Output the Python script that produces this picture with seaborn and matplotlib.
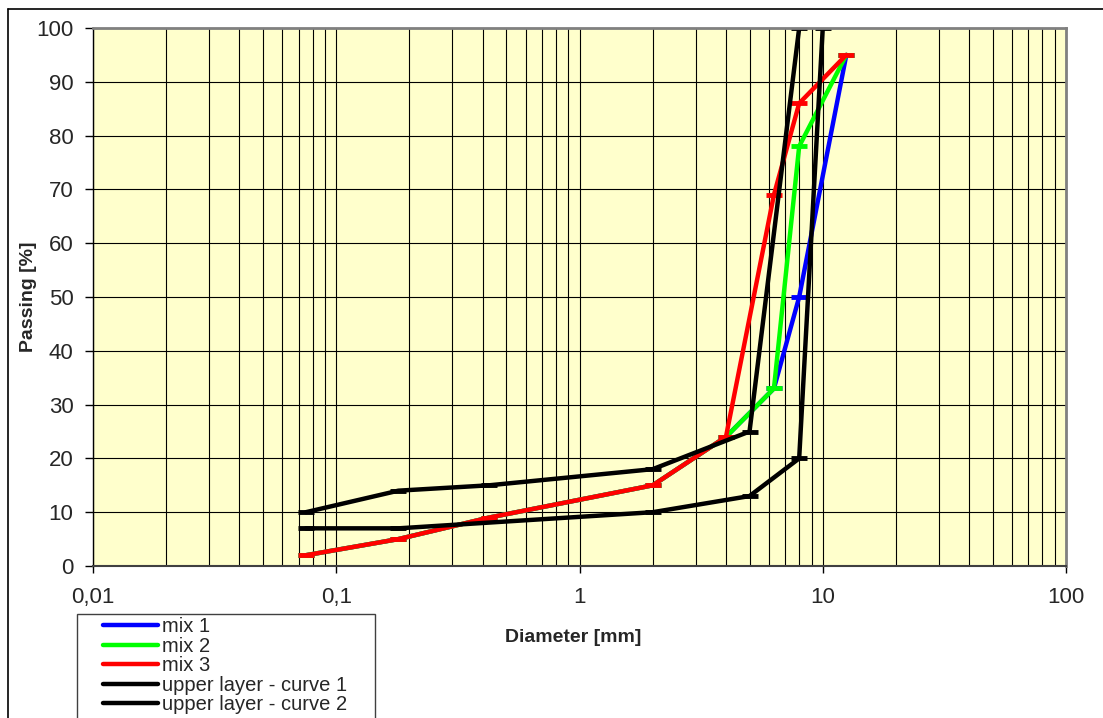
import numpy as np
import pandas as pd
import seaborn as sns
import matplotlib.pyplot as plt
import matplotlib.ticker as mtick
from matplotlib.lines import Line2D
from matplotlib.patches import Rectangle

# sieve sizes [mm] and passing [%]
sieves = [0.075, 0.18, 0.425, 2.0, 4.0, 6.3, 8.0, 12.5]
mix1 = [2, 5, 9, 15, 24, 33, 50, 95]
mix2 = [2, 5, 9, 15, 24, 33, 78, 95]
mix3 = [2, 5, 9, 15, 24, 69, 86, 95]

curve1_d = [0.075, 0.18, 0.425, 2.0, 5.0, 8.0]
curve1_p = [10, 14, 15, 18, 25, 100]
curve2_d = [0.075, 0.18, 2.0, 5.0, 8.0, 10.0]
curve2_p = [7, 7, 10, 13, 20, 100]

labels = ["mix 1", "mix 2", "mix 3", "upper layer - curve 1", "upper layer - curve 2"]
colors = ["#0000FF", "#00FF00", "#FF0000", "#000000", "#000000"]

xticks = [0.01, 0.1, 1, 10, 100]
xticklabels = ["0,01", "0,1", "1", "10", "100"]

series = [
    (sieves, mix1),
    (sieves, mix2),
    (sieves, mix3),
    (curve1_d, curve1_p),
    (curve2_d, curve2_p),
]

sns.set_style("white")
plt.rcParams["font.family"] = ["Liberation Sans", "DejaVu Sans"]

fig = plt.figure(figsize=(11.03, 7.18), dpi=100)
ax = fig.add_axes([93 / 1103, 152 / 718, 973 / 1103, 538 / 718])
ax.set_facecolor("#FFFFCC")

for (d, p), lab, col in zip(series, labels, colors):
    df = pd.DataFrame({"d": d, "p": p})
    sns.lineplot(data=df, x="d", y="p", ax=ax, color=col, lw=3.2,
                 marker="_", ms=11, mew=3.5, mec=col, sort=False,
                 estimator=None, legend=False)

ax.set_xscale("log")
ax.set_xlim(0.01, 100)
ax.set_ylim(0, 100)
ax.set_xticks(xticks)
ax.set_xticklabels(xticklabels)
ax.xaxis.set_minor_locator(mtick.LogLocator(base=10, subs=np.arange(2, 10)))
ax.xaxis.set_minor_formatter(mtick.NullFormatter())
ax.set_yticks(np.arange(0, 101, 10))

ax.grid(True, which="both", axis="x", color="#000000", lw=0.8)
ax.grid(True, which="major", axis="y", color="#000000", lw=0.8)
ax.set_axisbelow(True)

ax.tick_params(axis="x", which="major", direction="out", length=5, width=1,
               color="black", labelsize=16, pad=10, bottom=True)
ax.tick_params(axis="x", which="minor", length=0)
ax.tick_params(axis="y", direction="out", length=6, width=1, color="black",
               labelsize=16, pad=8, left=True)

for side in ["top", "right"]:
    ax.spines[side].set_color("#808080")
    ax.spines[side].set_linewidth(2)
ax.spines["bottom"].set_color("#404040")
ax.spines["bottom"].set_linewidth(1.5)
ax.spines["left"].set_color("#000000")
ax.spines["left"].set_linewidth(1)

ax.set_xlabel("Diameter [mm]", fontsize=14, fontweight="bold")
ax.set_ylabel("Passing [%]", fontsize=14, fontweight="bold")
ax.xaxis.set_label_coords(0.494, -0.118)
ax.yaxis.set_label_coords(-0.058, 0.5)

# legend box (runs off the bottom edge, as in the original)
fig.add_artist(Rectangle((77 / 1103, -0.1), 298 / 1103, (718 - 614) / 718 + 0.1,
                         transform=fig.transFigure, fill=False,
                         edgecolor="#404040", lw=1))

handles = [Line2D([], [], color=c, lw=3.2) for c in colors]
leg = fig.legend(handles, labels, loc="upper left",
                 bbox_to_anchor=(103 / 1103, 1 - 617 / 718),
                 fontsize=14.5, frameon=False,
                 handlelength=2.75, handletextpad=0.2, labelspacing=0.03,
                 borderpad=0, borderaxespad=0)

# outer chart border
fig.add_artist(Line2D([8 / 1103, 8 / 1103], [0, 1 - 9 / 718], color="black", lw=1.2,
                      transform=fig.transFigure))
fig.add_artist(Line2D([8 / 1103, 1], [1 - 9 / 718, 1 - 9 / 718], color="black", lw=1.2,
                      transform=fig.transFigure))

fig.savefig("out.png", dpi=100)
